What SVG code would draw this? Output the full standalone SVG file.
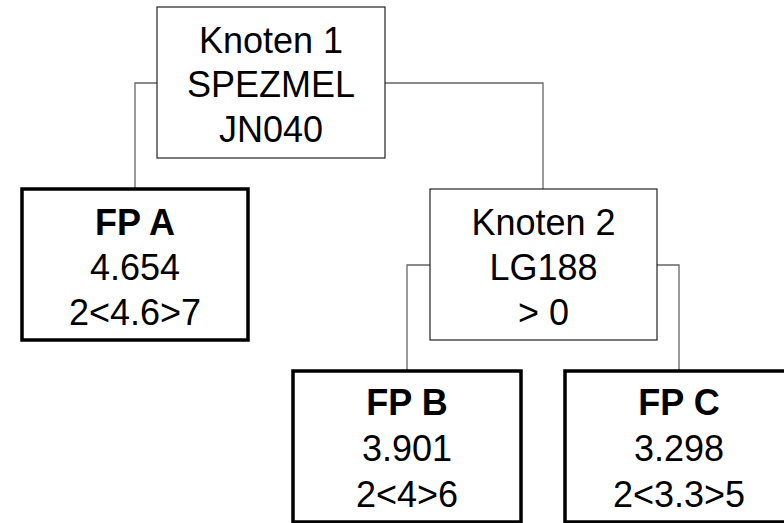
<svg xmlns="http://www.w3.org/2000/svg" width="784" height="523" viewBox="0 0 784 523">
<style>
text{font-family:"Liberation Sans",Arial,sans-serif;font-size:36px;text-anchor:middle;fill:#000}
.b{font-weight:bold}
.inner{fill:#fff;stroke:#222;stroke-width:1.2}
.leaf{fill:#fff;stroke:#000;stroke-width:3.5}
.conn{fill:none;stroke:#666;stroke-width:1.3}
</style>
<rect width="784" height="523" fill="#fff"/>
<g id="connectors">
<polyline class="conn" points="157,83 135,83 135,189"/>
<polyline class="conn" points="385,83 543,83 543,189"/>
<polyline class="conn" points="430,265 407,265 407,371"/>
<polyline class="conn" points="657,265 679,265 679,371"/>
</g>
<g id="knoten1">
<rect class="inner" x="157" y="7" width="228" height="151"/>
<text x="271" y="53">Knoten 1</text>
<text x="271" y="97">SPEZMEL</text>
<text x="271" y="142">JN040</text>
</g>
<g id="fpA">
<rect class="leaf" x="22" y="189" width="226" height="151"/>
<text class="b" x="135" y="235">FP A</text>
<text x="135" y="280">4.654</text>
<text x="135" y="325">2&lt;4.6&gt;7</text>
</g>
<g id="knoten2">
<rect class="inner" x="430" y="189" width="227" height="151"/>
<text x="543.5" y="235">Knoten 2</text>
<text x="543.5" y="280">LG188</text>
<text x="543.5" y="325">&gt; 0</text>
</g>
<g id="fpB">
<rect class="leaf" x="293" y="371" width="228" height="151"/>
<text class="b" x="407" y="415">FP B</text>
<text x="407" y="461">3.901</text>
<text x="407" y="507">2&lt;4&gt;6</text>
</g>
<g id="fpC">
<rect class="leaf" x="565" y="371" width="228" height="151"/>
<text class="b" x="679" y="415">FP C</text>
<text x="679" y="461">3.298</text>
<text x="679" y="507">2&lt;3.3&gt;5</text>
</g>
</svg>
